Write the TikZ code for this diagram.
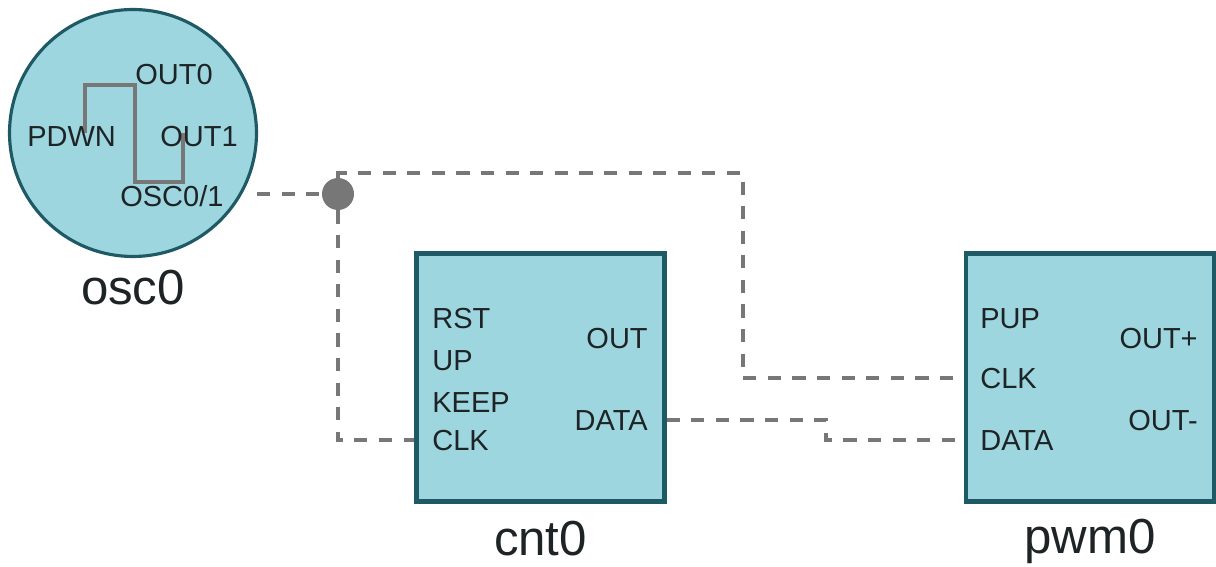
\documentclass[tikz,border=0pt]{standalone}
\usepackage{fontspec}
\setmainfont{Liberation Sans}
\usepackage{tikz}
\usetikzlibrary{calc}

\definecolor{blockfill}{HTML}{9ED6DF}
\definecolor{blockline}{HTML}{1D5A66}
\definecolor{wiregray}{HTML}{777777}
\definecolor{textdark}{HTML}{1E2426}

\begin{document}
\begin{tikzpicture}[x=0.02cm,y=-0.02cm,
                        block/.style={rectangle, draw=blockline, fill=blockfill, line width=2.4pt, minimum size=4.96cm},
                        osc/.style={circle, draw=blockline, fill=blockfill, line width=1.8pt, minimum size=4.94cm},
                        port/.style={inner sep=0pt, text=textdark, font=\fontsize{16.5}{18}\selectfont},
                        title/.style={inner sep=0pt, anchor=base, text=textdark, font=\fontsize{28}{30}\selectfont},
                        wire/.style={draw=wiregray, line width=1.9pt, dash pattern=on 7.5pt off 6.5pt},
                        junction/.style={circle, fill=wiregray, inner sep=0pt, minimum size=0.64cm}]

        \useasboundingbox (0,0) rectangle (1216,567);

        % oscillator
        \node[osc] (osc0) at (133,133) {};
        \draw[wiregray, line width=2.1pt] (85,133) -- (85,85) -- (135,85) -- (135,182) -- (183,182) -- (183,133);
        \node[port, anchor=base west] (osc0-out0) at (135,85) {OUT0};
        \node[port, anchor=base west] (osc0-pdwn) at (27,147) {PDWN};
        \node[port, anchor=base west] (osc0-out1) at (160,147) {OUT1};
        \node[port, anchor=base west] (osc0-osc) at (120,207) {OSC0/1};
        \node[title] (osc0-lbl) at (133,305) {osc0};

        % counter
        \node[block] (cnt0) at (540.5,377.5) {};
        \node[port, anchor=base west] (cnt0-rst) at (432,328) {RST};
        \node[port, anchor=base west] (cnt0-up) at (432,370) {UP};
        \node[port, anchor=base west] (cnt0-keep) at (432,412) {KEEP};
        \node[port, anchor=base west] (cnt0-clk) at (432,450) {CLK};
        \node[port, anchor=base east] (cnt0-out) at (648,348) {OUT};
        \node[port, anchor=base east] (cnt0-data) at (648,430) {DATA};
        \node[title] (cnt0-lbl) at (540.5,555) {cnt0};

        % pwm
        \node[block] (pwm0) at (1090,377.5) {};
        \node[port, anchor=base west] (pwm0-pup) at (980,328) {PUP};
        \node[port, anchor=base west] (pwm0-clk) at (980,388) {CLK};
        \node[port, anchor=base west] (pwm0-data) at (980,450) {DATA};
        \node[port, anchor=base east] (pwm0-outp) at (1198,348) {OUT+};
        \node[port, anchor=base east] (pwm0-outn) at (1198,430) {OUT-};
        \node[title] (pwm0-lbl) at (1090,553) {pwm0};

        % wires
        \node[junction] (junc) at (338,194) {};
        \coordinate (osc0-o) at (257,194);
        \coordinate (clkbend) at (743,173);
        \coordinate (datajog) at (826,428);
        \draw[wire] (osc0-o) -- (junc);
        \draw[wire] (junc) |- (clkbend) |- (pwm0.west |- pwm0-clk);
        \draw[wire] (junc) |- (cnt0.west |- cnt0-clk);
        \draw[wire] (cnt0.east |- cnt0-data) -| (datajog) |- (pwm0.west |- pwm0-data);
    \end{tikzpicture}
\end{document}
